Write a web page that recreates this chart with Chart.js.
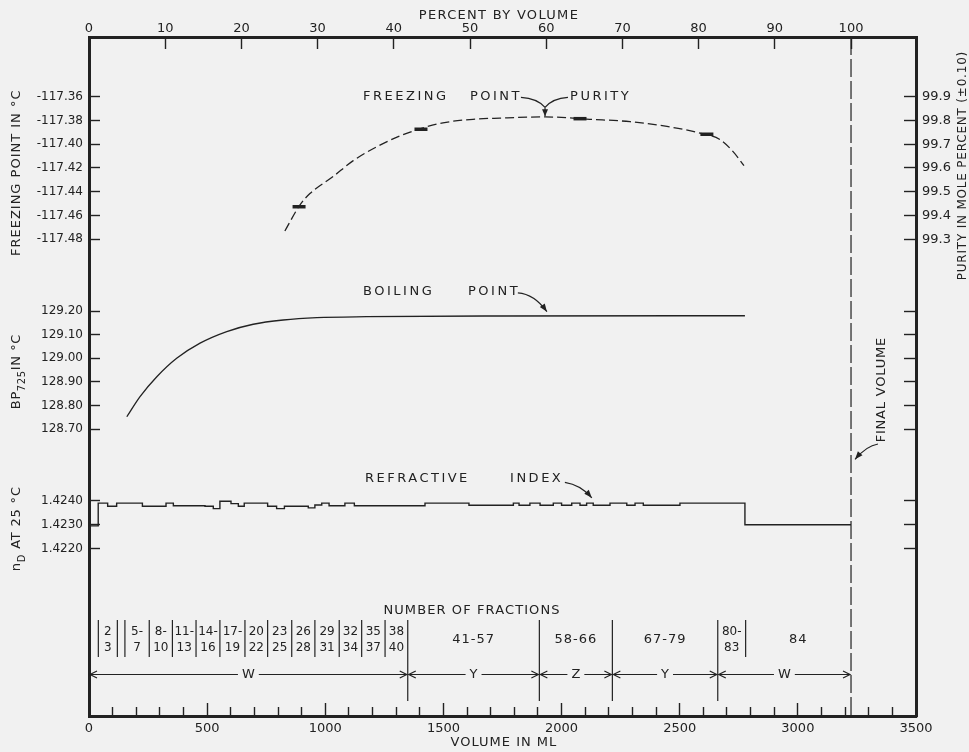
<!doctype html>
<html lang="en">
<head>
<meta charset="utf-8">
<title>Freezing point, boiling point and refractive index of the fractions</title>
<script src="https://cdn.jsdelivr.net/npm/chart.js@4"></script>
<style>
  html, body { margin: 0; padding: 0; background: #f1f1f1; }
  #box { width: 969px; height: 752px; position: relative; }
</style>
</head>
<body>
<div id="box"><canvas id="chart"></canvas></div>
<script>
// ---- values ----
const finalVolume = 3225;            // ml, = 100 percent by volume

// freezing point curve (ml, deg C)
const fpVol  = [829, 893, 935, 1033, 1117, 1219, 1316, 1401, 1498, 1625, 1739, 1930, 2120, 2290, 2446, 2594, 2670, 2725, 2772];
const fpTemp = [-117.473, -117.451, -117.4415, -117.4272, -117.414, -117.402, -117.393, -117.387, -117.382, -117.379,
                -117.378, -117.377, -117.379, -117.381, -117.385, -117.391, -117.396, -117.406, -117.418];
// measured freezing points (short bars)
const fpMarkVol  = [889, 1405, 2078, 2615];
const fpMarkTemp = [-117.4526, -117.3874, -117.3785, -117.3916];

// boiling point at 725 mm
const bpVol  = [160, 216, 287, 371, 470, 583, 695, 822, 964, 1175, 1739, 2776];
const bpTemp = [128.753, 128.838, 128.922, 129.000, 129.064, 129.113, 129.144, 129.162, 129.172, 129.176, 129.179, 129.180];

// refractive index, one level per fraction (level holds from this volume on)
const riVol = [0, 39, 79, 117, 226, 326, 357, 491, 526, 554, 601, 632, 657, 756, 794, 827, 928, 956, 985, 1016,
               1083, 1123, 1422, 1608, 1796, 1820, 1866, 1909, 1965, 2000, 2043, 2078, 2106, 2134, 2205, 2276, 2311, 2346, 2501, 2776, 3225];
const riVal = [1.42295, 1.42390, 1.42377, 1.42390, 1.42377, 1.42390, 1.42379, 1.42377, 1.42367, 1.42398,
               1.42388, 1.42377, 1.42390, 1.42377, 1.42367, 1.42377, 1.42370, 1.42382, 1.42390, 1.42379,
               1.42390, 1.42379, 1.42390, 1.42381, 1.42390, 1.42381, 1.42390, 1.42381, 1.42390, 1.42381,
               1.42390, 1.42381, 1.42390, 1.42381, 1.42390, 1.42381, 1.42390, 1.42381, 1.42390, 1.42300, 1.42300];

// fractions
const fracEdges = [39.5, 120, 152, 255, 353, 453, 554, 660, 756, 858, 956, 1059, 1154, 1253, 1349, 1906, 2215, 2661, 2779, 3225];
const fracLabels = [['2', '3'], [], ['5-', '7'], ['8-', '10'], ['11-', '13'], ['14-', '16'], ['17-', '19'], ['20', '22'],
                    ['23', '25'], ['26', '28'], ['29', '31'], ['32', '34'], ['35', '37'], ['38', '40'],
                    ['41-57'], ['58-66'], ['67-79'], ['80-', '83'], ['84']];
const groupEdges = [0, 1349, 1906, 2215, 2661, 3225];
const groupNames = ['W', 'Y', 'Z', 'Y', 'W'];

// tick labels
const volLabels   = [0, 500, 1000, 1500, 2000, 2500, 3000, 3500];
const pctTicks    = [0, 10, 20, 30, 40, 50, 60, 70, 80, 90, 100];
const fpTicks     = [-117.36, -117.38, -117.40, -117.42, -117.44, -117.46, -117.48];
const purityTicks = [99.9, 99.8, 99.7, 99.6, 99.5, 99.4, 99.3];
const bpTicks     = [129.20, 129.10, 129.00, 128.90, 128.80, 128.70];
const riTicks     = [1.4240, 1.4230, 1.4220];

const ink = '#222222';
const FONT = '"DejaVu Sans", sans-serif';
Chart.defaults.font.family = FONT;
Chart.defaults.font.size = 12;
Chart.defaults.color = ink;

// share of the plot height for each stacked band, top to bottom
const band = {fp: 238, bp: 190, ri: 115, fr: 136};

function sideAxis(position, order, share, min, max, values, fmt, size) {
  const left = position === 'left';
  return {
    type: 'linear', position, stack: position, stackWeight: share, weight: order,
    min, max,
    border: {display: true, width: 3, color: ink},
    grid: {drawOnChartArea: false, drawTicks: values.length > 0, tickLength: left ? -11 : -12,
           tickWidth: 1.4, tickColor: ink},
    ticks: {display: !!fmt, autoSkip: false, padding: left ? 17 : 18, color: ink,
            font: {size: size || 12}, callback: v => fmt ? fmt(v) : ''},
    afterBuildTicks: s => { s.ticks = values.map(v => ({value: v})); },
    afterFit: s => { s.width = left ? 89 : 53; }
  };
}

// text helpers for the lettering on the figure
function say(ctx, text, x, y, o) {
  o = o || {};
  ctx.save();
  ctx.font = (o.size || 13) + 'px ' + FONT;
  ctx.letterSpacing = (o.sp || 0) + 'px';
  ctx.fillStyle = ink;
  ctx.textAlign = o.align || 'left';
  ctx.textBaseline = 'middle';
  ctx.translate(x, y);
  if (o.rot) ctx.rotate(o.rot);
  ctx.fillText(text, 0, 0);
  ctx.restore();
}

// vertical title, read bottom to top, with subscripts
function vtitle(ctx, parts, x, y, size, sp) {
  ctx.save();
  ctx.translate(x, y);
  ctx.rotate(-Math.PI / 2);
  ctx.fillStyle = ink;
  ctx.textBaseline = 'middle';
  ctx.letterSpacing = sp + 'px';
  const fontOf = p => (p.sub ? Math.round(size * 0.8) : size) + 'px ' + FONT;
  let w = 0;
  parts.forEach(p => { ctx.font = fontOf(p); w += ctx.measureText(p.t).width; });
  let cx = -w / 2;
  parts.forEach(p => {
    ctx.font = fontOf(p);
    ctx.fillText(p.t, cx, p.sub ? size * 0.4 : 0);
    cx += ctx.measureText(p.t).width;
  });
  ctx.restore();
}

function head(ctx, p, ang, len, half) {
  const bx = p[0] - len * Math.cos(ang), by = p[1] - len * Math.sin(ang);
  ctx.beginPath();
  ctx.moveTo(p[0], p[1]);
  ctx.lineTo(bx + half * Math.sin(ang), by - half * Math.cos(ang));
  ctx.lineTo(bx - half * Math.sin(ang), by + half * Math.cos(ang));
  ctx.closePath();
  ctx.fill();
}

function curvedArrow(ctx, p0, c, p1) {
  ctx.beginPath();
  ctx.moveTo(p0[0], p0[1]);
  ctx.quadraticCurveTo(c[0], c[1], p1[0], p1[1]);
  ctx.stroke();
  head(ctx, p1, Math.atan2(p1[1] - c[1], p1[0] - c[0]), 8, 3);
}

const lettering = {
  id: 'lettering',
  afterDraw(chart) {
    const {ctx, chartArea: a, scales: s} = chart;
    const X = v => s.x.getPixelForValue(v);
    const P = (vol, id, v) => [X(vol), s[id].getPixelForValue(v)];
    ctx.save();
    ctx.strokeStyle = ink;
    ctx.fillStyle = ink;
    ctx.lineWidth = 1.2;

    // final volume
    const xf = X(finalVolume);
    ctx.setLineDash([18, 4]);
    ctx.beginPath(); ctx.moveTo(xf, a.top); ctx.lineTo(xf, a.bottom); ctx.stroke();
    ctx.setLineDash([]);
    let p = P(3354, 'yBP', 128.8674);
    say(ctx, 'FINAL VOLUME', p[0], p[1], {align: 'center', rot: -Math.PI / 2, sp: 0.8});
    curvedArrow(ctx, P(3339, 'yBP', 128.638), P(3290, 'yBP', 128.630), P(3242, 'yBP', 128.573));

    // axis titles
    say(ctx, 'PERCENT BY VOLUME', s.x2.getPixelForValue(53.8), a.top - 21, {align: 'center', sp: 1.3});
    say(ctx, 'VOLUME IN ML', X(1756), a.bottom + 27, {align: 'center', sp: 1});
    vtitle(ctx, [{t: 'FREEZING POINT IN °C'}], a.left - 72, s.yFP.getPixelForValue(-117.424), 13, 1);
    vtitle(ctx, [{t: 'BP'}, {t: '725', sub: true}, {t: 'IN °C'}], a.left - 72, s.yBP.getPixelForValue(128.944), 13, 0.6);
    vtitle(ctx, [{t: 'n'}, {t: 'D', sub: true}, {t: ' AT 25 °C'}], a.left - 72, s.yRI.getPixelForValue(1.42283), 13, 0.8);
    vtitle(ctx, [{t: 'PURITY IN MOLE PERCENT (±0.10)'}], a.right + 47, s.yPur.getPixelForValue(99.61), 12, 0.8);

    // curve labels
    let y = s.yFP.getPixelForValue(-117.36);
    say(ctx, 'FREEZING', X(1160), y, {sp: 2.5});
    say(ctx, 'POINT', X(1612), y, {sp: 2.5});
    say(ctx, 'PURITY', X(2036), y, {sp: 2.5});
    const j = P(1930, 'yFP', -117.369);
    [[1828, 1897], [2027, 1962]].forEach(b => {
      const s0 = P(b[0], 'yFP', -117.3605), c = P(b[1], 'yFP', -117.3612);
      ctx.beginPath(); ctx.moveTo(s0[0], s0[1]); ctx.quadraticCurveTo(c[0], c[1], j[0], j[1]); ctx.stroke();
    });
    const tip = P(1930, 'yFP', -117.3765);
    ctx.beginPath(); ctx.moveTo(j[0], j[1]); ctx.lineTo(tip[0], tip[1]); ctx.stroke();
    head(ctx, tip, Math.PI / 2, 7, 3);

    y = s.yBP.getPixelForValue(129.2816);
    say(ctx, 'BOILING', X(1160), y, {sp: 2.5});
    say(ctx, 'POINT', X(1604), y, {sp: 2.5});
    curvedArrow(ctx, P(1815, 'yBP', 129.277), P(1885, 'yBP', 129.272), P(1938, 'yBP', 129.197));

    y = s.yRI.getPixelForValue(1.4249);
    say(ctx, 'REFRACTIVE', X(1168), y, {sp: 2.5});
    say(ctx, 'INDEX', X(1782), y, {sp: 2.5});
    curvedArrow(ctx, P(2014, 'yRI', 1.42476), P(2080, 'yRI', 1.42466), P(2128, 'yRI', 1.42412));

    // number of fractions table
    const F = v => s.yFR.getPixelForValue(v);
    say(ctx, 'NUMBER OF FRACTIONS', X(1621), F(105.5), {align: 'center', sp: 1.1});
    fracEdges.slice(0, -1).forEach(e => {
      const x = X(e), long = groupEdges.includes(e);
      ctx.beginPath(); ctx.moveTo(x, F(96)); ctx.lineTo(x, F(long ? 15 : 59)); ctx.stroke();
    });
    fracLabels.forEach((lab, i) => {
      const x = X((fracEdges[i] + fracEdges[i + 1]) / 2);
      if (lab.length === 2) {
        say(ctx, lab[0], x, F(84), {align: 'center', size: 12});
        say(ctx, lab[1], x, F(68.5), {align: 'center', size: 12});
      } else if (lab.length === 1) {
        say(ctx, lab[0], x, F(76.5), {align: 'center', sp: 1});
      }
    });

    // W / Y / Z ranges with arrows
    const ya = F(41.5);
    ctx.font = '13px ' + FONT;
    groupNames.forEach((g, i) => {
      const x0 = X(groupEdges[i]), x1 = X(groupEdges[i + 1]);
      const xm = (x0 + x1) / 2, hw = ctx.measureText(g).width / 2 + 4;
      ctx.beginPath();
      ctx.moveTo(x0 + 1, ya); ctx.lineTo(xm - hw, ya);
      ctx.moveTo(xm + hw, ya); ctx.lineTo(x1 - 1, ya);
      ctx.moveTo(x0 + 8, ya - 3.5); ctx.lineTo(x0 + 1, ya); ctx.lineTo(x0 + 8, ya + 3.5);
      ctx.moveTo(x1 - 8, ya - 3.5); ctx.lineTo(x1 - 1, ya); ctx.lineTo(x1 - 8, ya + 3.5);
      ctx.stroke();
      say(ctx, g, xm, ya, {align: 'center'});
    });
    ctx.restore();
  }
};

// freezing-point band limits and the purity scale that shares it
const fpMax = -117.30976, fpMin = -117.51005;
const toPurity = t => 99.9 + (t - fpTicks[0]) * 5;

const pts = (xs, ys) => xs.map((x, i) => ({x, y: ys[i]}));

new Chart(document.getElementById('chart'), {
  type: 'line',
  data: {
    datasets: [
      {data: pts(fpVol, fpTemp), yAxisID: 'yFP', borderColor: ink, borderWidth: 1.3,
       borderDash: [9, 4], cubicInterpolationMode: 'monotone', pointRadius: 0},
      {data: pts(fpMarkVol, fpMarkTemp), yAxisID: 'yFP', showLine: false, pointStyle: 'line',
       pointRadius: 6.5, pointBorderWidth: 3.5, pointBorderColor: ink},
      {data: pts(bpVol, bpTemp), yAxisID: 'yBP', borderColor: ink, borderWidth: 1.3,
       cubicInterpolationMode: 'monotone', pointRadius: 0},
      {data: pts(riVol, riVal), yAxisID: 'yRI', borderColor: ink, borderWidth: 1.4,
       stepped: true, pointRadius: 0}
    ]
  },
  options: {
    responsive: true,
    maintainAspectRatio: false,
    animation: false,
    events: [],
    layout: {padding: 0},
    plugins: {legend: {display: false}, tooltip: {enabled: false}},
    scales: {
      x: {
        type: 'linear', position: 'bottom', min: 0, max: 3500,
        border: {width: 3, color: ink},
        grid: {drawOnChartArea: false, tickLength: -13, tickWidth: 1.4, tickColor: ink,
               tickBorderDash: c => volLabels.includes(c.tick && c.tick.value) ? [] : [11, 40]},
        ticks: {stepSize: 100, autoSkip: false, maxRotation: 0, padding: 18, font: {size: 13},
                callback: v => volLabels.includes(v) ? String(v) : ''},
        afterFit: s => { s.height = 36; }
      },
      x2: {
        type: 'linear', position: 'top', min: 0, max: 3500 / finalVolume * 100,
        border: {width: 3, color: ink},
        grid: {drawOnChartArea: false, tickLength: -12, tickWidth: 1.4, tickColor: ink},
        ticks: {autoSkip: false, maxRotation: 0, padding: 13, font: {size: 13}, callback: v => String(v)},
        afterBuildTicks: s => { s.ticks = pctTicks.map(v => ({value: v})); },
        afterFit: s => { s.height = 37; }
      },
      yFP:  sideAxis('left', 4, band.fp, fpMin, fpMax, fpTicks, v => v.toFixed(2)),
      yBP:  sideAxis('left', 3, band.bp, 128.5491, 129.3522, bpTicks, v => v.toFixed(2)),
      yRI:  sideAxis('left', 2, band.ri, 1.420696, 1.4254875, riTicks, v => v.toFixed(4)),
      yFR:  sideAxis('left', 1, band.fr, 0, 136, []),
      yPur: sideAxis('right', 1, band.fp, toPurity(fpMin), toPurity(fpMax), purityTicks, v => v.toFixed(1), 13),
      yBPr: sideAxis('right', 2, band.bp, 128.5491, 129.3522, bpTicks),
      yRIr: sideAxis('right', 3, band.ri, 1.420696, 1.4254875, riTicks),
      yFRr: sideAxis('right', 4, band.fr, 0, 136, [])
    }
  },
  plugins: [lettering]
});
</script>
</body>
</html>
